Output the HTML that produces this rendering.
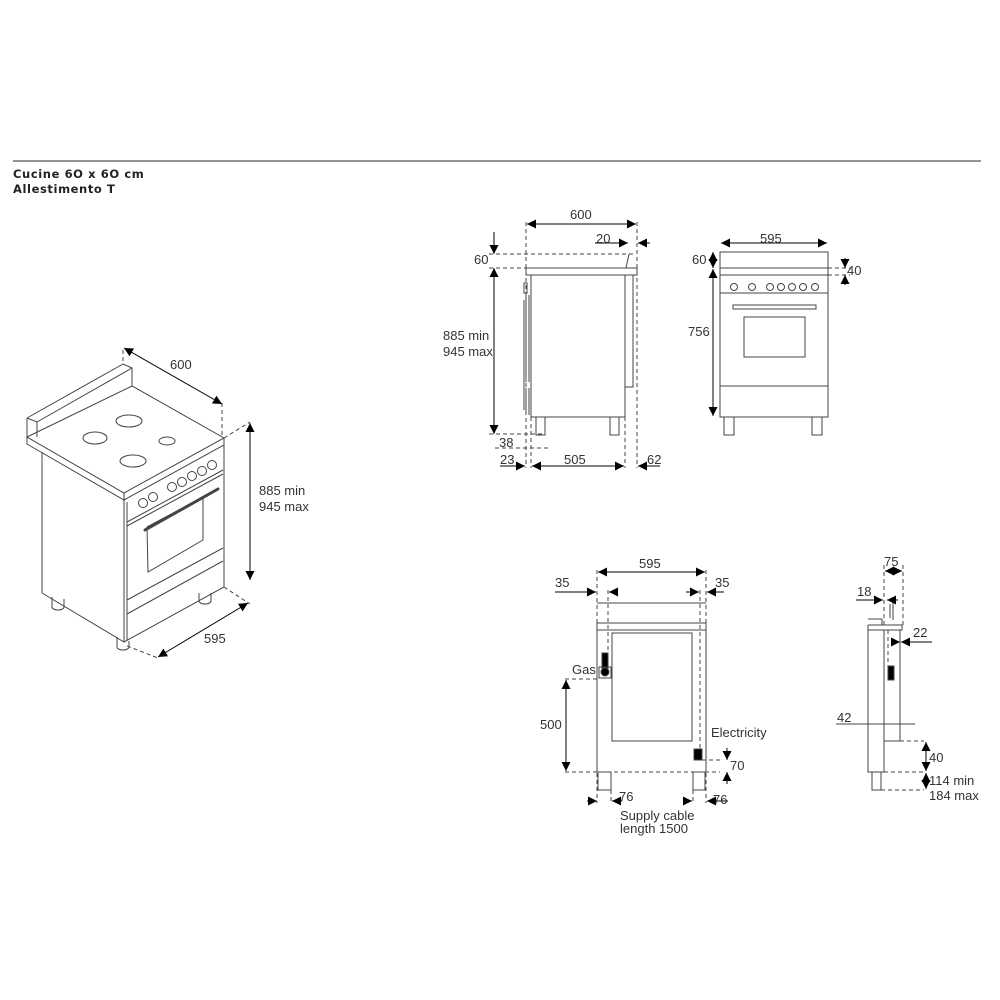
<!DOCTYPE html>
<html><head><meta charset="utf-8"><style>
html,body{margin:0;padding:0;background:#fff;}
svg{display:block;}
text{font-family:"Liberation Sans",Arial,sans-serif;font-size:13px;fill:#333;}
.t{font-family:"DejaVu Sans","Liberation Sans",sans-serif;font-weight:bold;font-size:11.5px;fill:#222;letter-spacing:0.6px;}
</style></head><body>
<svg width="1000" height="1000" viewBox="0 0 1000 1000" xmlns="http://www.w3.org/2000/svg">
<defs>
<marker id="a" viewBox="0 0 10 10" refX="10" refY="5" markerWidth="9" markerHeight="9" orient="auto-start-reverse" markerUnits="userSpaceOnUse"><path d="M0,0 L10,5 L0,10 z" fill="#000"/></marker>
</defs>
<line x1="13" y1="161" x2="981" y2="161" stroke="#555" stroke-width="1.2"/>
<text class="t" x="13" y="178">Cucine 6O x 6O cm</text>
<text class="t" x="13" y="193">Allestimento T</text>

<g fill="none" stroke="#444" stroke-width="1">
<!-- ISO view -->
<!-- backsplash -->
<path d="M27,418 L123,364 L132,368 L132,386 M27,418 L37,422 L132,368 M27,418 V437 M37,422 V437"/>
<!-- worktop -->
<path d="M27,437 L132,386 L224,438 L124,493 Z"/>
<path d="M27,437 V444 L124,500 L224,445 V438 M124,493 V500"/>
<!-- body -->
<path d="M42,452 V593 L124,642 L224,587 V445 M124,500 V642 M127,502 V640"/>
<path d="M127,522 L223,470 M127,526 L223,474"/>
<path d="M127,600 L223,548 M127,614 L223,561"/>
<path d="M147,527 L203,497 V540 L148,572 Z"/>
<path d="M145,530 L218,489" stroke-width="3" stroke-linecap="round"/>
<ellipse cx="129" cy="421" rx="13" ry="6"/><ellipse cx="95" cy="438" rx="12" ry="6"/><ellipse cx="167" cy="441" rx="8" ry="4"/><ellipse cx="133" cy="461" rx="13" ry="6"/>
<circle cx="143" cy="503" r="4.5"/><circle cx="153" cy="497" r="4.5"/><circle cx="172" cy="487" r="4.5"/><circle cx="182" cy="482" r="4.5"/><circle cx="192" cy="476" r="4.5"/><circle cx="202" cy="471" r="4.5"/><circle cx="212" cy="465" r="4.5"/>
<path d="M52,597 v10 a6,3 0 0 0 12,0 v-8 M117,637 v10 a6,3 0 0 0 12,0 v-6 M199,593 v8 a6,3 0 0 0 12,0 v-8"/>
<path d="M123,350 v14 M222,403 v33 M224,438 L250,422 M224,587 L250,604 M127,646 L158,658" stroke-dasharray="4,3"/>
<line x1="124" y1="348" x2="222" y2="404" stroke="#000" marker-start="url(#a)" marker-end="url(#a)"/>
<line x1="250" y1="423" x2="250" y2="580" stroke="#000" marker-start="url(#a)" marker-end="url(#a)"/>
<line x1="158" y1="657" x2="248" y2="603" stroke="#000" marker-start="url(#a)" marker-end="url(#a)"/>

<!-- Side view top -->
<rect x="526" y="268" width="111" height="7"/>
<rect x="531" y="275" width="94" height="142"/>
<path d="M625,275 V387 H633 V275"/>
<path d="M524,283 h3 v10 h-3 z M526,295 V382 M529,295 V382 M524,300 V410 M526,388 V415 M529,388 V415"/>
<rect x="536" y="417" width="9" height="18"/><rect x="610" y="417" width="9" height="18"/>
<path d="M629,254 L626,268" />
<g stroke-dasharray="4,3">
<path d="M526,222 V468 M637,222 V468 M625,417 V468 M531,417 V468 M489,254 H633 M489,268 H526 M489,434 H545 M495,448 H548"/>
</g>
<line x1="527" y1="224" x2="636" y2="224" stroke="#000" marker-start="url(#a)" marker-end="url(#a)"/>
<line x1="595" y1="243" x2="628" y2="243" stroke="#000" marker-end="url(#a)"/>
<line x1="650" y1="243" x2="638" y2="243" stroke="#000" marker-end="url(#a)"/>
<line x1="494" y1="232" x2="494" y2="254" stroke="#000" marker-end="url(#a)"/>
<line x1="494" y1="278" x2="494" y2="268" stroke="#000" marker-end="url(#a)"/>
<line x1="494" y1="278" x2="494" y2="434" stroke="#000" marker-end="url(#a)"/>
<line x1="500" y1="466" x2="525" y2="466" stroke="#000" marker-end="url(#a)"/>
<line x1="532" y1="466" x2="624" y2="466" stroke="#000" marker-start="url(#a)" marker-end="url(#a)"/>
<line x1="660" y1="466" x2="638" y2="466" stroke="#000" marker-end="url(#a)"/>

<!-- Front view top -->
<rect x="720" y="252" width="108" height="165"/>
<path d="M720,268 H828 M720,275 H828 M720,293 H828 M720,386 H828"/>
<rect x="733" y="305" width="83" height="4"/>
<rect x="744" y="317" width="61" height="40"/>
<circle cx="734" cy="287" r="3.5"/><circle cx="752" cy="287" r="3.5"/><circle cx="770" cy="287" r="3.5"/><circle cx="781" cy="287" r="3.5"/><circle cx="792" cy="287" r="3.5"/><circle cx="803" cy="287" r="3.5"/><circle cx="815" cy="287" r="3.5"/>
<rect x="724" y="417" width="10" height="18"/><rect x="812" y="417" width="10" height="18"/>
<path d="M828,268 H850 M828,275 H850" stroke-dasharray="4,3"/>
<line x1="721" y1="243" x2="827" y2="243" stroke="#000" marker-start="url(#a)" marker-end="url(#a)"/>
<line x1="713" y1="252" x2="713" y2="268" stroke="#000" marker-start="url(#a)" marker-end="url(#a)"/>
<line x1="713" y1="269" x2="713" y2="416" stroke="#000" marker-start="url(#a)" marker-end="url(#a)"/>
<line x1="845" y1="258" x2="845" y2="268" stroke="#000" marker-end="url(#a)"/>
<line x1="845" y1="285" x2="845" y2="275" stroke="#000" marker-end="url(#a)"/>

<!-- Rear view bottom -->
<path d="M597,603 H706 M597,623 H706 M597,630 H706 M597,623 V772 M706,623 V772"/>
<rect x="612" y="633" width="80" height="108"/>
<rect x="598" y="772" width="13" height="18"/><rect x="693" y="772" width="12" height="18"/>
<rect x="602" y="653" width="6" height="19" fill="#000"/>
<rect x="599" y="667" width="12" height="11"/><circle cx="605" cy="672" r="4" fill="#000"/>
<rect x="694" y="749" width="8" height="11" fill="#000"/>
<g stroke-dasharray="4,3">
<path d="M597,570 V803 M706,570 V803 M608,590 V653 M611,790 V803 M700,590 V749 M693,790 V803 M565,679 H599 M565,772 H720 M702,760 H720"/>
</g>
<line x1="598" y1="572" x2="705" y2="572" stroke="#000" marker-start="url(#a)" marker-end="url(#a)"/>
<line x1="555" y1="592" x2="596" y2="592" stroke="#000" marker-end="url(#a)"/>
<line x1="618" y1="592" x2="609" y2="592" stroke="#000" marker-end="url(#a)"/>
<line x1="686" y1="592" x2="699" y2="592" stroke="#000" marker-end="url(#a)"/>
<line x1="724" y1="592" x2="707" y2="592" stroke="#000" marker-end="url(#a)"/>
<line x1="566" y1="680" x2="566" y2="771" stroke="#000" marker-start="url(#a)" marker-end="url(#a)"/>
<line x1="727" y1="748" x2="727" y2="760" stroke="#000" marker-end="url(#a)"/>
<line x1="727" y1="784" x2="727" y2="772" stroke="#000" marker-end="url(#a)"/>
<line x1="587" y1="801" x2="597" y2="801" stroke="#000" marker-end="url(#a)"/>
<line x1="622" y1="801" x2="612" y2="801" stroke="#000" marker-end="url(#a)"/>
<line x1="684" y1="801" x2="692" y2="801" stroke="#000" marker-end="url(#a)"/>
<line x1="728" y1="801" x2="707" y2="801" stroke="#000" marker-end="url(#a)"/>

<!-- Right side view bottom -->
<path d="M868,625 V772 H884 M868,625 H902 V630 H868 M868,619 H882 V625 M884,630 V772 M900,630 V741 H884 M872,772 V790 H881 V772"/>
<rect x="888" y="666" width="6" height="14" fill="#000"/>
<path d="M890,604 V618 M893,600 V620"/>
<g stroke-dasharray="4,3">
<path d="M884,565 V628 M903,565 V628 M888,630 V666 M900,741 H924 M884,772 H924 M881,790 H924"/>
</g>
<line x1="836" y1="724" x2="915" y2="724" stroke="#444"/>
<line x1="885" y1="571" x2="902" y2="571" stroke="#000" marker-start="url(#a)" marker-end="url(#a)"/>
<line x1="856" y1="600" x2="883" y2="600" stroke="#000" marker-end="url(#a)"/>
<line x1="898" y1="600" x2="887" y2="600" stroke="#000" marker-end="url(#a)"/>
<line x1="892" y1="642" x2="900" y2="642" stroke="#000" marker-end="url(#a)"/>
<line x1="932" y1="642" x2="901" y2="642" stroke="#000" marker-end="url(#a)"/>
<line x1="926" y1="742" x2="926" y2="771" stroke="#000" marker-start="url(#a)" marker-end="url(#a)"/>
<line x1="926" y1="773" x2="926" y2="789" stroke="#000" marker-start="url(#a)" marker-end="url(#a)"/>
</g>

<text x="170" y="369">600</text>
<text x="259" y="495">885 min</text>
<text x="259" y="511">945 max</text>
<text x="204" y="643">595</text>
<text x="570" y="219">600</text>
<text x="596" y="243">20</text>
<text x="474" y="264">60</text>
<text x="443" y="340">885 min</text>
<text x="443" y="356">945 max</text>
<text x="499" y="447">38</text>
<text x="500" y="464">23</text>
<text x="564" y="464">505</text>
<text x="647" y="464">62</text>
<text x="760" y="243">595</text>
<text x="692" y="264">60</text>
<text x="847" y="275">40</text>
<text x="688" y="336">756</text>
<text x="639" y="568">595</text>
<text x="555" y="587">35</text>
<text x="715" y="587">35</text>
<text x="572" y="674">Gas</text>
<text x="540" y="729">500</text>
<text x="711" y="737">Electricity</text>
<text x="730" y="770">70</text>
<text x="619" y="801">76</text>
<text x="713" y="804">76</text>
<text x="620" y="820">Supply cable</text>
<text x="620" y="833">length 1500</text>
<text x="884" y="566">75</text>
<text x="857" y="596">18</text>
<text x="913" y="637">22</text>
<text x="837" y="722">42</text>
<text x="929" y="762">40</text>
<text x="929" y="785">114 min</text>
<text x="929" y="800">184 max</text>
</svg>
</body></html>
